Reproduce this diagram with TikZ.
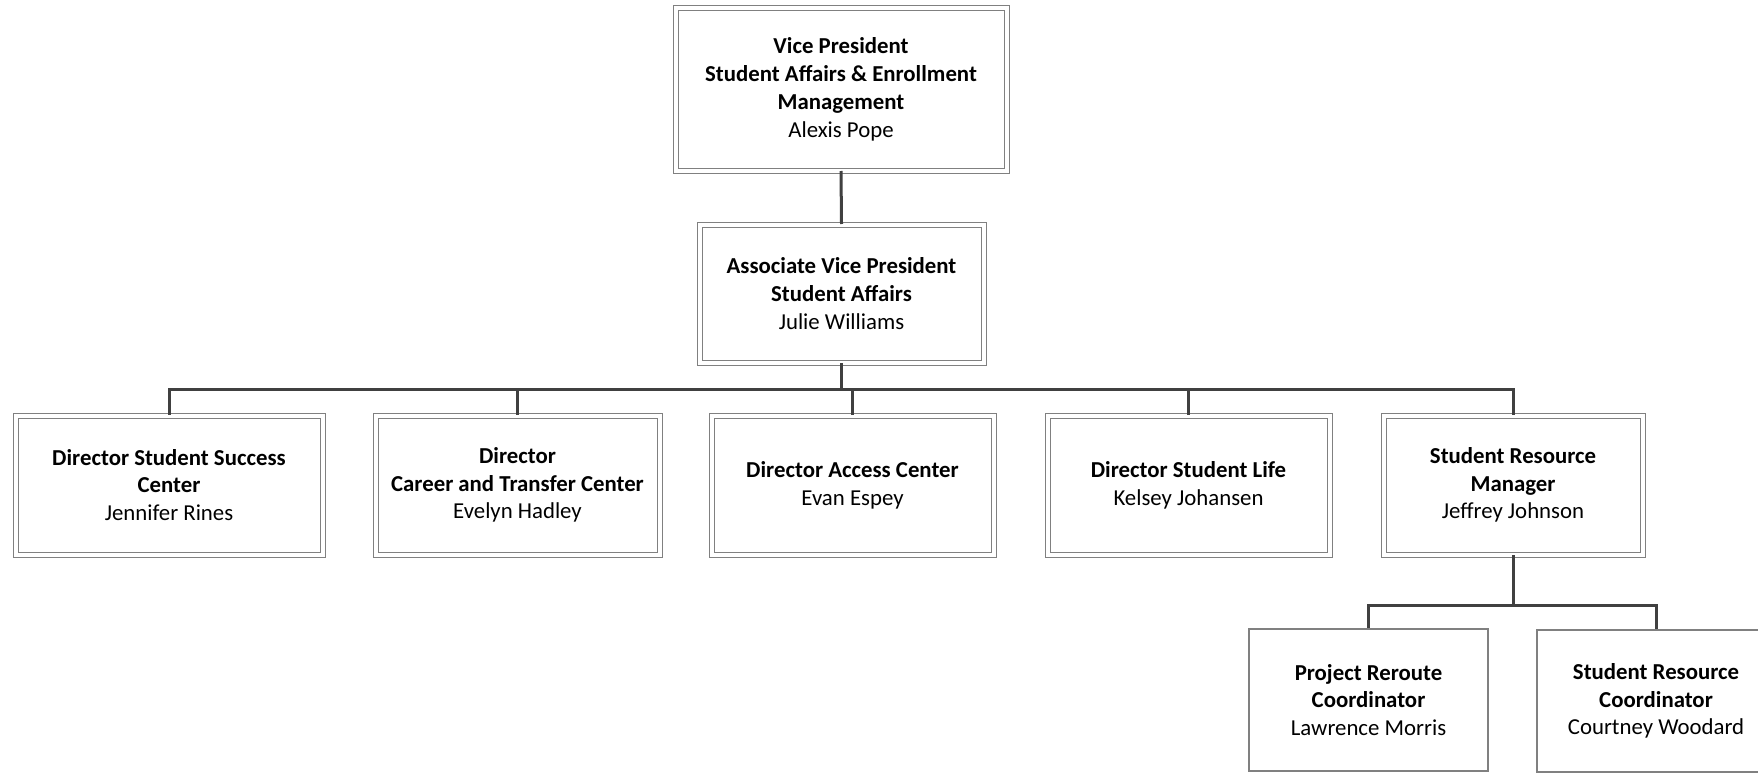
\documentclass[tikz,border=0pt]{standalone}
\usepackage{fontspec}
\setmainfont{Carlito}

\begin{document}
\begin{tikzpicture}[x=1pt,y=-1pt,
    pbox/.style={draw=gray, line width=1pt, double=white, double distance=4pt,
        align=center, inner sep=0pt, font=\fontsize{22.8}{27.8}\selectfont},
    cbox/.style={draw=gray, line width=1.3pt, align=center, inner sep=0pt,
        font=\fontsize{22.8}{27.8}\selectfont},
    conn/.style={draw=black!75, line width=3pt}]
    % Page frame
    \useasboundingbox (0,0) rectangle (1758,773);
    \clip (0,0) rectangle (1758,773);
    \fill[white] (0,0) rectangle (1758,773);

    % Draw the top two boxes
    \node[pbox, minimum width=331pt, minimum height=162pt] (vp) at (841,89.5)
        {\textbf{Vice President}\\\textbf{Student Affairs \& Enrollment}\\\textbf{Management}\\Alexis Pope};
    \node[pbox, minimum width=284pt, minimum height=138pt] (avp) at (841.5,293.5)
        {\textbf{Associate Vice President}\\\textbf{Student Affairs}\\Julie Williams};

    % Draw the row of directors
    \foreach \n/\x/\w/\t in {
        d1/169/307/{\textbf{Director Student Success}\\\textbf{Center}\\Jennifer Rines},
        d2/517.5/284/{\textbf{Director}\\\textbf{Career and Transfer Center}\\Evelyn Hadley},
        d3/852.5/282/{\textbf{Director Access Center}\\Evan Espey},
        d4/1188.5/282/{\textbf{Director Student Life}\\Kelsey Johansen},
        srm/1513/259/{\textbf{Student Resource}\\\textbf{Manager}\\Jeffrey Johnson}} {
        \node[pbox, minimum width=\w pt, minimum height=139pt] (\n) at (\x,485) {\t};
    }

    % Draw the two coordinators
    \node[cbox, minimum width=239pt, minimum height=142pt] (prc) at (1368.5,700)
        {\textbf{Project Reroute}\\\textbf{Coordinator}\\Lawrence Morris};
    \node[cbox, minimum width=238pt, minimum height=142pt] (src) at (1656,701)
        {\textbf{Student Resource}\\\textbf{Coordinator}\\Courtney Woodard};

    % Draw the connectors
    \draw[conn] (vp.south) -- (avp.north);
    \coordinate (bus) at (841.5,389);
    \draw[conn] (avp.south) -- (bus);
    \foreach \n in {d1,d2,d3,d4,srm} {
        \draw[conn] (bus) -| (\n.north);
    }
    \coordinate (bus2) at (1513,605);
    \draw[conn] (srm.south) -- (bus2);
    \draw[conn] (bus2) -| (prc.north);
    \draw[conn] (bus2) -| (src.north);
\end{tikzpicture}
\end{document}
